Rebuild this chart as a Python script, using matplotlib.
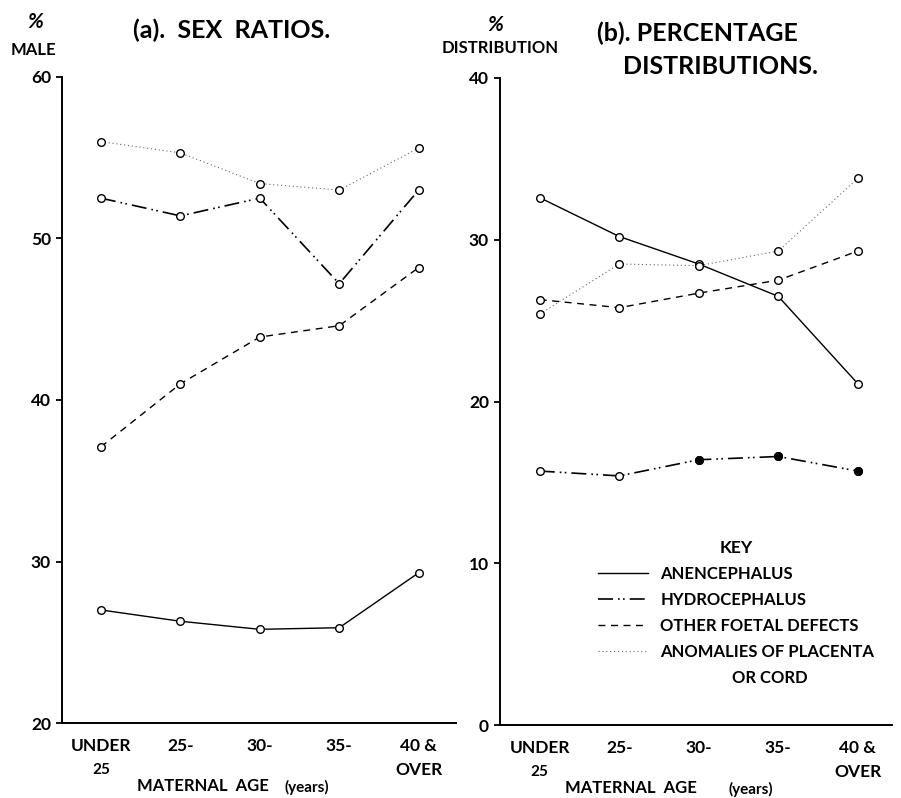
import numpy as np
import matplotlib.pyplot as plt
from matplotlib.lines import Line2D

plt.rcParams['font.family'] = ['Lato', 'DejaVu Sans']
plt.rcParams['font.weight'] = 'bold'

# maternal age groups (two rows of tick text)
ages = ["UNDER", "25-", "30-", "35-", "40 &"]
ages_row2 = ["25", "", "", "", "OVER"]

# (a) sex ratios, % male
sex_anen = [27.0, 26.3, 25.8, 25.9, 29.3]
sex_hydro = [52.5, 51.4, 52.5, 47.2, 53.0]
sex_other = [37.1, 41.0, 43.9, 44.6, 48.2]
sex_plac = [56.0, 55.3, 53.4, 53.0, 55.6]

# (b) percentage distributions
pct_anen = [32.6, 30.2, 28.5, 26.5, 21.1]
pct_hydro = [15.7, 15.4, 16.4, 16.6, 15.7]
pct_other = [26.3, 25.8, 26.7, 27.5, 29.3]
pct_plac = [25.4, 28.5, 28.4, 29.3, 33.8]

names = ["ANENCEPHALUS", "HYDROCEPHALUS", "OTHER FOETAL DEFECTS", "ANOMALIES OF PLACENTA"]

styles = [
    dict(color='black', lw=1.0, linestyle='-'),
    dict(color='black', lw=1.2, linestyle=(0, (9, 3, 1, 2, 1, 3))),
    dict(color='black', lw=1.0, linestyle=(0, (5, 4))),
    dict(color='#666666', lw=0.8, linestyle=(0, (1, 2.5))),
]
mk = dict(marker='o', ms=5.5, mfc='white', mec='black', mew=1.0)

fig = plt.figure(figsize=(9.01, 7.98), dpi=100)
axa = fig.add_axes([62 / 901, 75 / 798, 394 / 901, 646 / 798])
axb = fig.add_axes([500 / 901, 73 / 798, 392 / 901, 647 / 798])

x = np.arange(len(ages))


def style_axes(ax, ylim, yticks, xlim):
    ax.set_xlim(*xlim)
    ax.set_ylim(*ylim)
    ax.set_yticks(yticks)
    ax.set_yticklabels([str(t) for t in yticks], fontsize=12.5)
    ax.set_xticks(x)
    ax.set_xticklabels(ages, fontsize=12.5)
    ax.tick_params(axis='y', direction='out', length=4, width=1.3, pad=4)
    ax.tick_params(axis='x', length=0, pad=11)
    for s in ['top', 'right']:
        ax.spines[s].set_visible(False)
    for s in ['left', 'bottom']:
        ax.spines[s].set_linewidth(1.4)
    tr = ax.get_xaxis_transform()
    for xi, lab in zip(x, ages_row2):
        if lab == "25":
            ax.text(xi, -0.072, lab, transform=tr, ha='center', va='center', fontsize=11)
        elif lab:
            ax.text(xi, -0.072, lab, transform=tr, ha='center', va='center', fontsize=12.5)


for ax, series in [(axa, [sex_anen, sex_hydro, sex_other, sex_plac]),
                   (axb, [pct_anen, pct_hydro, pct_other, pct_plac])]:
    for vals, st in zip(series, styles):
        ax.plot(x, vals, clip_on=False, **st, **mk)

# filled points on hydrocephalus distribution
axb.plot(x[2:], pct_hydro[2:], linestyle='none', marker='o', ms=5.5, color='black')

style_axes(axa, (20, 60), [20, 30, 40, 50, 60], (-0.49, 4.47))
style_axes(axb, (0, 40), [0, 10, 20, 30, 40], (-0.5, 4.43))

# x-axis titles
for ax, x0 in [(axa, 0.19), (axb, 0.166)]:
    ax.text(x0, -0.098, "MATERNAL  AGE", transform=ax.transAxes, ha='left', va='center', fontsize=12)
for ax, x1 in [(axa, 0.565), (axb, 0.584)]:
    ax.text(x1, -0.1, "(years)", transform=ax.transAxes, ha='left', va='center', fontsize=11)

# titles and y-axis captions
fig.text(232 / 901, 1 - 30 / 798, "(a).  SEX  RATIOS.", ha='center', va='center', fontsize=18)
fig.text(597 / 901, 1 - 33 / 798, "(b). PERCENTAGE", ha='left', va='center', fontsize=18)
fig.text(623 / 901, 1 - 67 / 798, "DISTRIBUTIONS.", ha='left', va='center', fontsize=18)
fig.text(35 / 901, 1 - 22 / 798, "%", ha='center', va='center', fontsize=15, style='italic')
fig.text(33 / 901, 1 - 50 / 798, "MALE", ha='center', va='center', fontsize=12)
fig.text(495 / 901, 1 - 25 / 798, "%", ha='center', va='center', fontsize=15, style='italic')
fig.text(500 / 901, 1 - 48 / 798, "DISTRIBUTION", ha='center', va='center', fontsize=12)

# key
handles = [Line2D([], [], **st) for st in styles]
handles.append(Line2D([], [], color='none'))
labels = names + ["                  OR CORD"]
leg = axb.legend(handles, labels, title="KEY", loc='upper left',
                 bbox_to_anchor=(598 / 901, 1 - 540 / 798), bbox_transform=fig.transFigure,
                 frameon=False, fontsize=12, title_fontsize=12.5, handlelength=3.0,
                 handletextpad=0.75, labelspacing=0.6, borderpad=0, borderaxespad=0)
leg.get_title().set_fontweight('bold')

fig.savefig('out.png', dpi=100)
